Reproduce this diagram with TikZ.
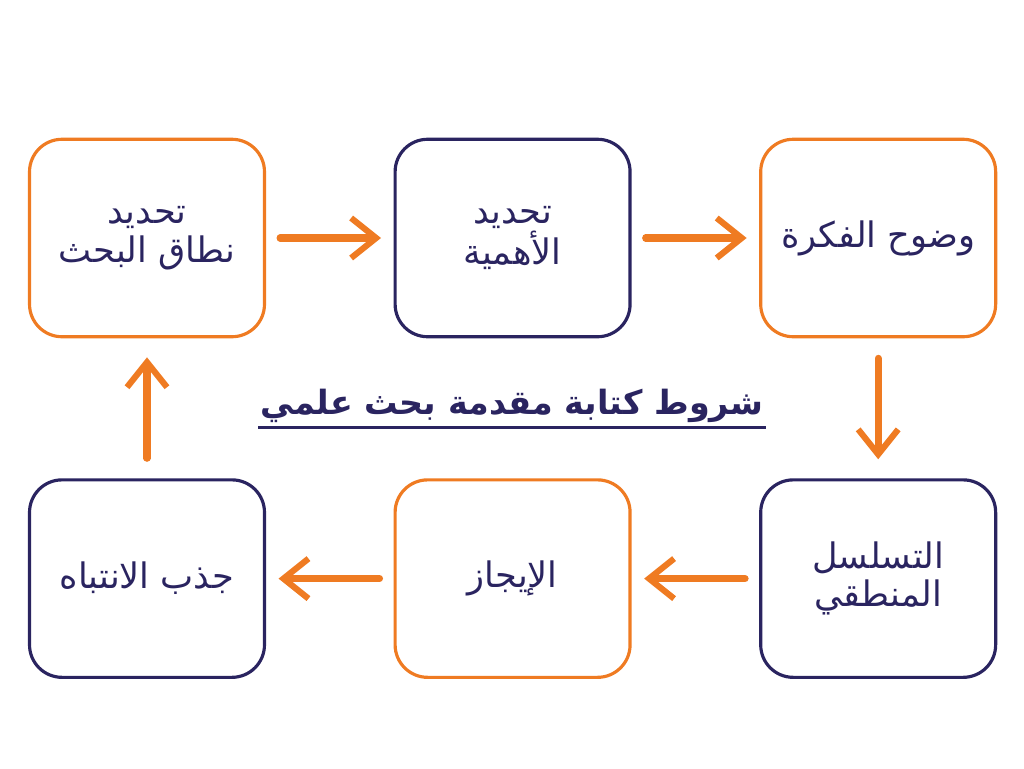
\documentclass[tikz,border=0pt]{standalone}
\usepackage{fontspec}
\newfontfamily\arabicfont[Script=Arabic]{DejaVu Sans}
\TeXXeTstate=1
\usetikzlibrary{positioning,arrows.meta}
\definecolor{myorange}{HTML}{EF7B22}
\definecolor{mynavy}{HTML}{2A2460}
\tikzset{
  stepo/.style={draw=myorange, line width=1.8pt, rounded corners=0.65cm,
    minimum width=4.7cm, minimum height=3.95cm, align=center,
    text=mynavy, font=\arabicfont\fontsize{20}{22}\selectfont},
  stepn/.style={stepo, draw=mynavy},
  flow/.style={draw=myorange, line width=4pt, line cap=round,
    -{Straight Barb[length=5mm,width=8mm,line width=3.5pt]}},
}
\begin{document}
\begin{tikzpicture}[x=0.02cm,y=-0.02cm]
  \useasboundingbox (0,0) rectangle (1024,768);

  % top row
  \node[stepo] (scope) at (147,238) {\beginR تحديد\endR\\\beginR نطاق البحث\endR};
  \node[stepn, right=2.55cm of scope] (import) {\beginR تحديد\endR\\\beginR الأهمية\endR};
  \node[stepo, right=2.55cm of import] (clear) {\beginR وضوح الفكرة\endR};

  % bottom row
  \node[stepn, below=2.8cm of clear] (logic) {\beginR التسلسل\endR\\\beginR المنطقي\endR};
  \node[stepo, left=2.55cm of logic] (brief) {\beginR الإيجاز\endR};
  \node[stepn, left=2.55cm of brief] (attn) {\beginR جذب الانتباه\endR};

  % title
  \node[text=mynavy, inner sep=1pt, font=\arabicfont\bfseries\fontsize{19}{24}\selectfont] (title) at (512,406)
    {\beginR شروط كتابة مقدمة بحث علمي\endR};
  \draw[mynavy, line width=1.8pt] ([yshift=-0.05cm]title.south west) -- ([yshift=-0.05cm]title.south east);

  % arrows
  \draw[flow, shorten <=0.28cm, shorten >=0.25cm] (scope.east) -- (import.west);
  \draw[flow, shorten <=0.28cm, shorten >=0.25cm] (import.east) -- (clear.west);
  \draw[flow, shorten <=0.4cm, shorten >=0.38cm] (clear.south) -- (logic.north);
  \draw[flow, shorten <=0.28cm, shorten >=0.25cm] (logic.west) -- (brief.east);
  \draw[flow, shorten <=0.28cm, shorten >=0.25cm] (brief.west) -- (attn.east);
  \draw[flow, shorten <=0.4cm, shorten >=0.38cm] (attn.north) -- (scope.south);
\end{tikzpicture}
\end{document}
